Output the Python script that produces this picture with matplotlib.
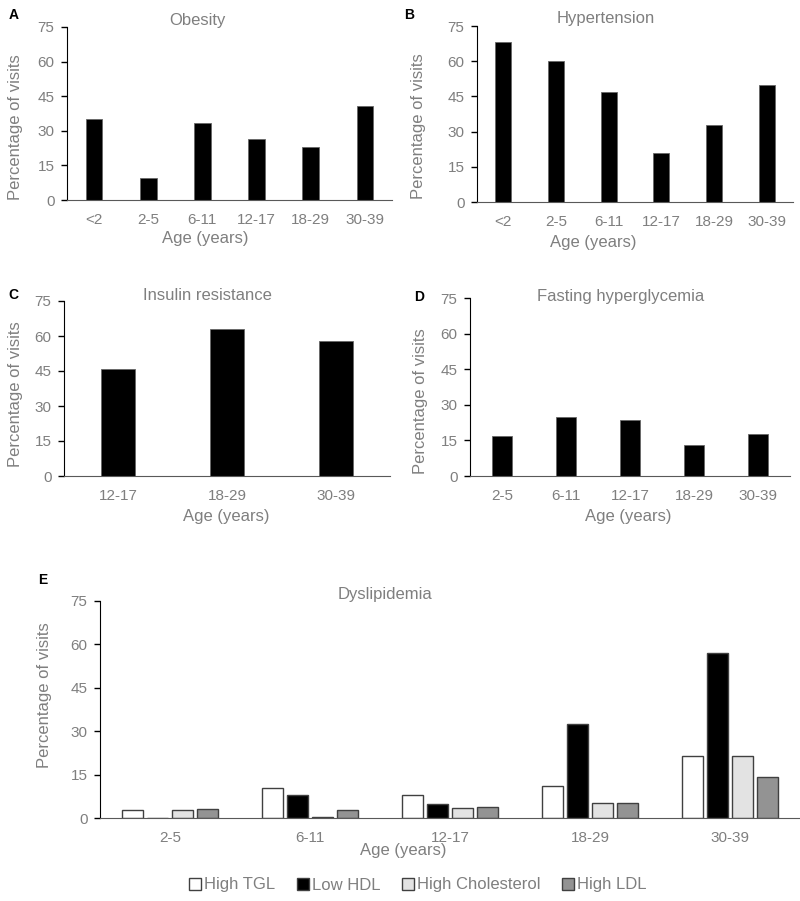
import matplotlib.pyplot as plt
import numpy as np

plt.rcParams['font.family'] = ['Liberation Sans', 'DejaVu Sans']

GRAY = '#7f7f7f'

# panel A - obesity
ob_ages = ['<2', '2-5', '6-11', '12-17', '18-29', '30-39']
ob_vals = [35.0, 9.7, 33.2, 26.3, 22.8, 40.9]

# panel B - hypertension
ht_ages = ['<2', '2-5', '6-11', '12-17', '18-29', '30-39']
ht_vals = [68.3, 60.2, 46.8, 20.9, 33.0, 49.8]

# panel C - insulin resistance
ir_ages = ['12-17', '18-29', '30-39']
ir_vals = [45.9, 63.0, 58.0]

# panel D - fasting hyperglycemia
fh_ages = ['2-5', '6-11', '12-17', '18-29', '30-39']
fh_vals = [16.8, 25.0, 23.4, 13.1, 17.5]

# panel E - dyslipidemia
dl_ages = ['2-5', '6-11', '12-17', '18-29', '30-39']
high_tgl = [2.7, 10.2, 8.1, 11.2, 21.5]
low_hdl = [0.0, 7.9, 5.0, 32.5, 57.0]
high_chol = [2.7, 0.3, 3.4, 5.1, 21.5]
high_ldl = [3.0, 2.9, 3.7, 5.1, 14.3]
dl_names = ['High TGL', 'Low HDL', 'High Cholesterol', 'High LDL']
dl_colors = ['white', 'black', '#e3e3e3', '#939393']

W, H = 800, 901
fig = plt.figure(figsize=(8, 9.01), dpi=100)


def box(x0, y0, x1, y1):
    return [x0 / W, 1 - y1 / H, (x1 - x0) / W, (y1 - y0) / H]


def ftext(x, y, s, **kw):
    fig.text(x / W, 1 - y / H, s, ha='center', va='center', **kw)


def style(ax, labels):
    ax.set_ylim(0, 75)
    ax.set_yticks([0, 15, 30, 45, 60, 75])
    ax.set_xticks(range(len(labels)))
    ax.set_xticklabels(labels)
    ax.set_xlim(-0.5, len(labels) - 0.5)
    for s in ['top', 'right']:
        ax.spines[s].set_visible(False)
    ax.spines['left'].set_color('black')
    ax.spines['bottom'].set_color('#595959')
    ax.tick_params(axis='y', colors=GRAY, labelsize=11, length=4, width=1, direction='out', pad=5)
    ax.tick_params(axis='y', color='black')
    ax.tick_params(axis='x', colors=GRAY, labelsize=11, length=0, pad=9)


def simple(rect, ages, vals, width):
    ax = fig.add_axes(rect)
    ax.bar(range(len(ages)), vals, width=width, color='black', edgecolor='#666666', linewidth=0.6)
    style(ax, ages)
    return ax


simple(box(67, 27, 392, 200), ob_ages, ob_vals, 0.31)
simple(box(477, 26, 793, 202), ht_ages, ht_vals, 0.30)
simple(box(64, 301, 390, 476), ir_ages, ir_vals, 0.31)
simple(box(470, 298, 790, 476), fh_ages, fh_vals, 0.31)

axE = fig.add_axes(box(100, 601, 800, 818))
x = np.arange(len(dl_ages))
series = [high_tgl, low_hdl, high_chol, high_ldl]
handles = []
for i, (vals, c) in enumerate(zip(series, dl_colors)):
    b = axE.bar(x + (i - 1.5) * 0.18, vals, width=0.148, color=c,
                edgecolor='#404040', linewidth=1.0, label=dl_names[i])
    handles.append(b)
style(axE, dl_ages)

# titles, letters, labels
ftext(197, 20, 'Obesity', fontsize=12, color=GRAY)
ftext(606, 18, 'Hypertension', fontsize=12, color=GRAY)
ftext(207, 295, 'Insulin resistance', fontsize=12, color=GRAY)
ftext(621, 297, 'Fasting hyperglycemia', fontsize=12, color=GRAY)
ftext(385, 595, 'Dyslipidemia', fontsize=12, color=GRAY)

for lx, ly, letter in [(14, 15, 'A'), (409, 15, 'B'), (13, 295, 'C'), (419, 297, 'D'), (43, 580, 'E')]:
    ftext(lx, ly, letter, fontsize=10, fontweight='bold', color='black')

for lx, ly in [(16, 127), (418, 126), (16, 394), (420, 401), (45, 695)]:
    ftext(lx, ly, 'Percentage of visits', fontsize=12, color=GRAY, rotation=90)

for lx, ly in [(205, 239), (593, 243), (226, 516), (628, 516), (403, 851)]:
    ftext(lx, ly, 'Age (years)', fontsize=12, color=GRAY)

fig.legend(handles=handles, labels=dl_names, loc='center', bbox_to_anchor=(418 / W, 1 - 885 / H),
           ncol=4, frameon=False, fontsize=12, labelcolor=GRAY, handlelength=0.7,
           handleheight=0.7, handletextpad=0.2, columnspacing=1.3)

fig.savefig('out.png', dpi=100)
